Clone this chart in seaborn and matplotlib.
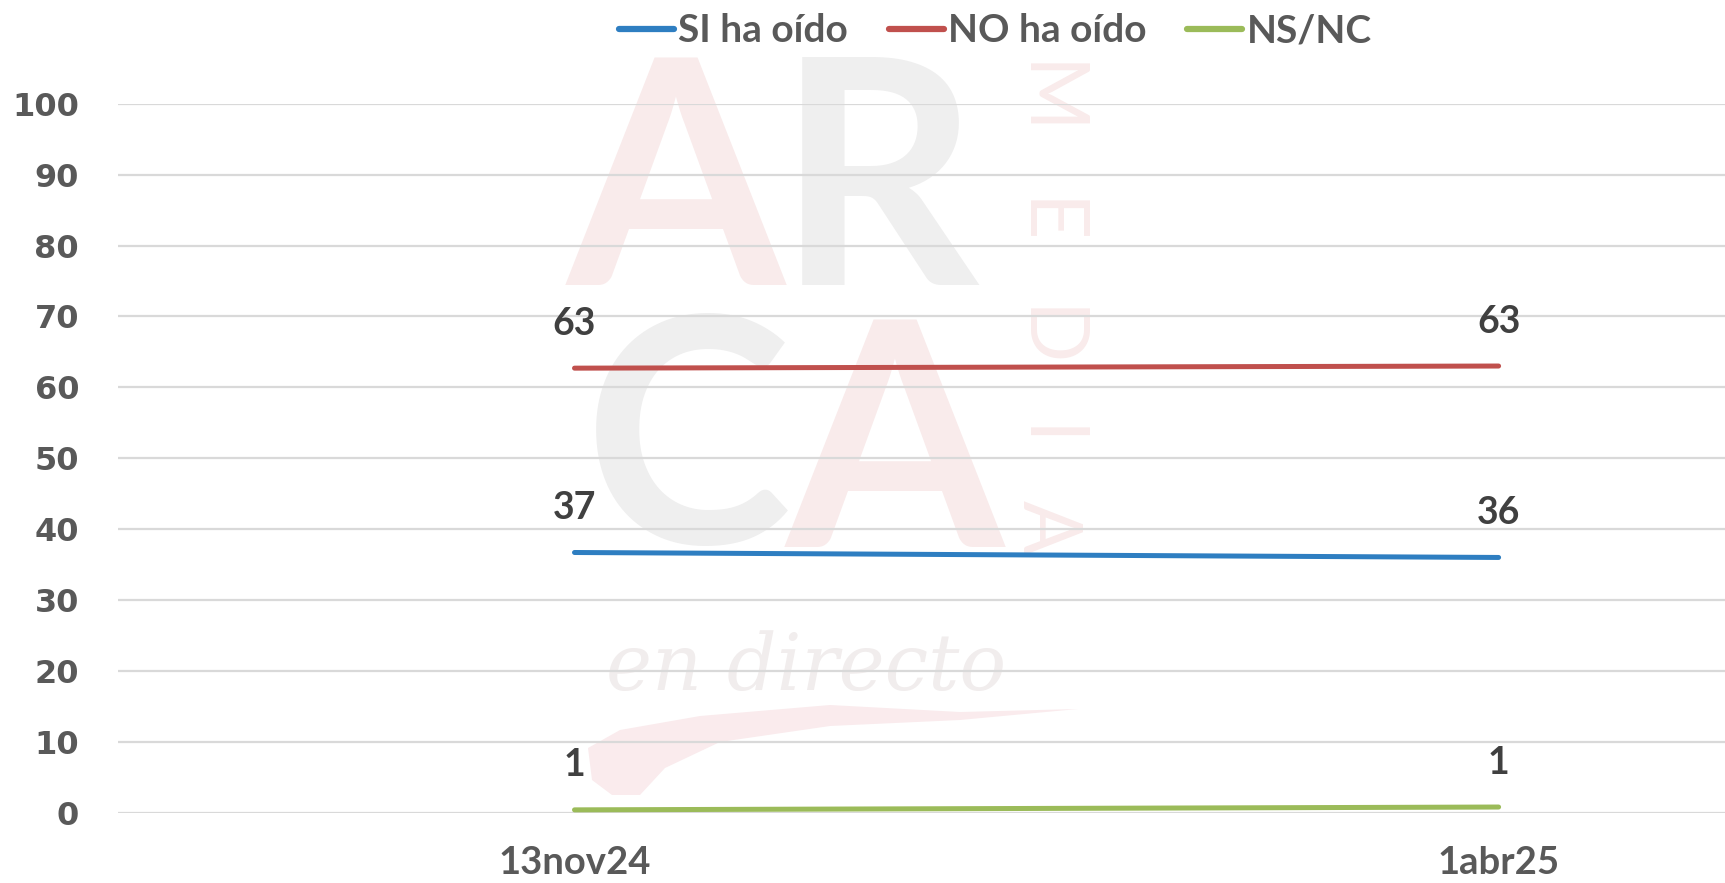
import matplotlib
matplotlib.use("Agg")
import matplotlib.pyplot as plt
from matplotlib.patches import Polygon
import seaborn as sns
import pandas as pd

# ---- data ----
fechas = ["13nov24", "1abr25"]
series = ["SI ha oído", "NO ha oído", "NS/NC"]
si_ha_oido = [36.7, 36.0]
no_ha_oido = [62.7, 63.0]
ns_nc = [0.4, 0.8]
etiquetas_si = ["37", "36"]
etiquetas_no = ["63", "63"]
etiquetas_ns = ["1", "1"]
y_ticks = [0, 10, 20, 30, 40, 50, 60, 70, 80, 90, 100]

colores = {"SI ha oído": "#2E7EC1", "NO ha oído": "#C0504D", "NS/NC": "#9BBB59"}

df = pd.DataFrame({
    "fecha": fechas * 3,
    "serie": [series[0]] * 2 + [series[1]] * 2 + [series[2]] * 2,
    "valor": si_ha_oido + no_ha_oido + ns_nc,
})
labels = {series[0]: etiquetas_si, series[1]: etiquetas_no, series[2]: etiquetas_ns}
vals = {series[0]: si_ha_oido, series[1]: no_ha_oido, series[2]: ns_nc}

sns.set_theme(style="white")
plt.rcParams["font.family"] = ["Lato", "DejaVu Sans"]

W, H = 1725, 883
fig = plt.figure(figsize=(W / 100, H / 100), dpi=100)
ax = fig.add_axes([118 / W, 1 - 812.7 / H, 1 - 118 / W, (812.7 - 103.7) / H])
ax.set_facecolor("none")

# ---- faint logo watermark (behind the grid) ----
def fx(px):
    return px / W

def fy(py):
    return 1 - py / H

wm_pink = "#F9EBEB"
wm_gray = "#EFEFEF"
big = dict(transform=fig.transFigure, family="Lato", fontweight="bold", fontsize=226,
           ha="center", va="baseline", zorder=0.1, clip_on=False)
ax.text(fx(676), fy(285), "A", color=wm_pink, **big)
ax.text(fx(878), fy(285), "R", color=wm_gray, **big)
ax.text(fx(688), fy(543), "C", color=wm_gray, **big)
ax.text(fx(895), fy(547), "A", color=wm_pink, **big)
for ch, cy in zip("MEDIA", [99, 222, 338, 437, 527]):
    ax.text(fx(1046), fy(cy), ch, fontsize=58, color=wm_pink, ha="center", va="center",
            rotation=-90, transform=fig.transFigure, family="Lato", zorder=0.1)
ax.text(fx(806), fy(668), "en directo", fontsize=56, color="#F1EDED", ha="center",
        va="center", transform=fig.transFigure, family="DejaVu Serif", style="italic",
        zorder=0.1)
swoosh_px = [(588, 748), (620, 730), (700, 716), (830, 705), (960, 712), (1078, 709),
             (960, 720), (830, 726), (720, 742), (665, 768), (640, 795), (612, 795),
             (592, 780)]
swoosh = Polygon([(fx(x), fy(y)) for x, y in swoosh_px], closed=True,
                 transform=fig.transFigure, facecolor="#FAEBED", edgecolor="none",
                 zorder=0.1)
ax.add_patch(swoosh)
swoosh.set_clip_on(False)

# ---- lines ----
sns.lineplot(data=df, x="fecha", y="valor", hue="serie", palette=colores,
             hue_order=series, linewidth=3.6, ax=ax, legend=True,
             solid_capstyle="round", zorder=3)
for ln in ax.get_lines():
    ln.set_clip_on(False)

for s in series:
    for i, f in enumerate(fechas):
        ax.annotate(labels[s][i], xy=(i, vals[s][i]), xytext=(0, 32),
                    textcoords="offset points", ha="center", va="center",
                    fontsize=27, fontweight="bold", color="#404040", zorder=4)

ax.set_xlim(-0.494, 1.245)
ax.set_ylim(0, 100)
ax.set_yticks(y_ticks)
ax.yaxis.grid(True, color="#D9D9D9", linewidth=1.6, zorder=0.5)
ax.set_axisbelow(True)
for sp in ax.spines.values():
    sp.set_visible(False)
ax.tick_params(axis="y", length=0, pad=28, labelcolor="#595959")
ax.tick_params(axis="x", length=0, pad=24, labelcolor="#595959")
for t in ax.get_yticklabels():
    t.set_family("DejaVu Sans")
    t.set_fontweight("bold")
    t.set_fontsize(23)
for t in ax.get_xticklabels():
    t.set_fontweight("bold")
    t.set_fontsize(27.5)
ax.set_xlabel("")
ax.set_ylabel("")

handles, lbls = ax.get_legend_handles_labels()
ax.get_legend().remove()
leg = fig.legend(handles, lbls, loc="center", bbox_to_anchor=(0.577, 0.965), ncol=3,
                 frameon=False, handlelength=1.42, handletextpad=0.1, columnspacing=1.05,
                 prop={"family": "Lato", "weight": "bold", "size": 28})
for t in leg.get_texts():
    t.set_color("#595959")
for h in leg.get_lines():
    h.set_linewidth(4.5)
    h.set_solid_capstyle("round")

fig.savefig("out.png", dpi=100)
